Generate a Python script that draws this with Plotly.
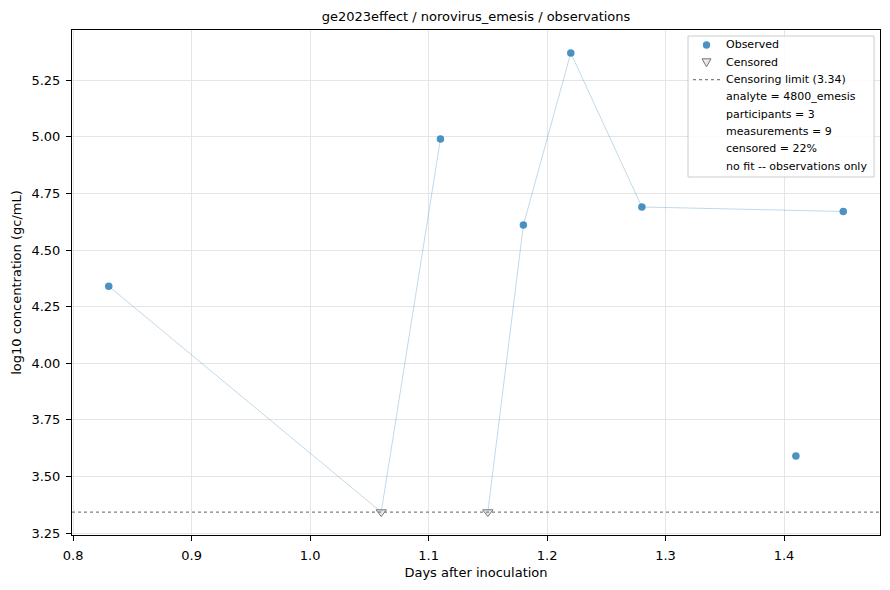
import plotly.graph_objects as go

# Observations (days after inoculation, log10 gc/mL)
participant = ["A", "A", "A", "B", "B", "B", "B", "B", "C"]
days = [0.83, 1.06, 1.11, 1.15, 1.18, 1.22, 1.28, 1.45, 1.41]
log_conc = [4.34, 3.343, 4.99, 3.343, 4.61, 5.37, 4.69, 4.67, 3.59]
censored = [False, True, False, True, False, False, False, False, False]

censor_limit = 3.343
legend_labels = [
    "Observed",
    "Censored",
    f"Censoring limit ({censor_limit:.2f})",
    "analyte = 4800_emesis",
    "participants = 3",
    "measurements = 9",
    "censored = 22%",
    "no fit -- observations only",
]

blue = "#1f77b4"
font = "DejaVu Sans"

fig = go.Figure()

# thin line per participant
for pid in sorted(set(participant)):
    idx = [i for i, p in enumerate(participant) if p == pid]
    idx.sort(key=lambda i: days[i])
    fig.add_trace(go.Scatter(
        x=[days[i] for i in idx], y=[log_conc[i] for i in idx],
        mode="lines", line=dict(color="rgba(31,119,180,0.28)", width=1),
        showlegend=False, hoverinfo="skip"))

obs_x = [d for d, c in zip(days, censored) if not c]
obs_y = [v for v, c in zip(log_conc, censored) if not c]
cen_x = [d for d, c in zip(days, censored) if c]
cen_y = [v for v, c in zip(log_conc, censored) if c]

fig.add_trace(go.Scatter(
    x=obs_x, y=obs_y, mode="markers", name="Observed", showlegend=False,
    marker=dict(color=blue, size=7.5, opacity=0.8, line=dict(width=0))))
fig.add_trace(go.Scatter(
    x=cen_x, y=cen_y, mode="markers", name="Censored", showlegend=False,
    marker=dict(symbol="triangle-down", color="rgba(210,210,210,0.5)", size=9,
                line=dict(color="#777777", width=1))))

# censoring limit
fig.add_hline(y=censor_limit, line=dict(color="#808080", width=1.2, dash="dot"))

# matplotlib-like 5% margins
all_y = log_conc + [censor_limit]
xspan = max(days) - min(days)
yspan = max(all_y) - min(all_y)
xrange = [min(days) - 0.05 * xspan, max(days) + 0.05 * xspan]
yrange = [min(all_y) - 0.05 * yspan, max(all_y) + 0.05 * yspan]

# legend drawn by hand (matplotlib-style compact rows)
row_top, row_step = 0.9703, 0.03426
text_x, sym_x = 0.8069, 0.7853
fig.add_shape(type="rect", xref="paper", yref="paper",
              x0=0.7624, x1=0.9926, y0=0.7089, y1=0.9881,
              line=dict(color="#cccccc", width=1), fillcolor="rgba(255,255,255,0.85)",
              layer="above")
for i, lab in enumerate(legend_labels):
    fig.add_annotation(x=text_x, y=row_top - i * row_step, xref="paper", yref="paper",
                       text=lab, showarrow=False, xanchor="left", yanchor="middle",
                       font=dict(size=11, color="black"))
fig.add_shape(type="circle", xref="paper", yref="paper", xsizemode="pixel", ysizemode="pixel",
              xanchor=sym_x, yanchor=row_top, x0=-3.7, x1=3.7, y0=-3.7, y1=3.7,
              fillcolor=blue, opacity=0.8, line=dict(width=0), layer="above")
fig.add_shape(type="path", xref="paper", yref="paper", xsizemode="pixel", ysizemode="pixel",
              xanchor=sym_x, yanchor=row_top - row_step,
              path="M -4.5 3.5 L 4.5 3.5 L 0 -4.5 Z",
              fillcolor="rgba(210,210,210,0.5)", line=dict(color="#777777", width=1),
              layer="above")
fig.add_shape(type="line", xref="paper", yref="paper",
              x0=0.7686, x1=0.8020, y0=row_top - 2 * row_step, y1=row_top - 2 * row_step,
              line=dict(color="#808080", width=1.2, dash="dot"), layer="above")

axis_style = dict(
    showline=True, linecolor="black", linewidth=1, mirror=True,
    ticks="outside", ticklen=5, tickcolor="black", ticklabelstandoff=3,
    showgrid=True, gridcolor="#e5e5e5", gridwidth=1,
    zeroline=False, tickfont=dict(size=13, color="black"),
    automargin=False,
)

# figure is shifted by the page's 8px body margin, so size/margins compensate
fig.update_layout(
    width=882, height=582,
    margin=dict(l=64, r=10, t=22, b=55),
    plot_bgcolor="white", paper_bgcolor="white",
    font=dict(family=font, color="black"),
    title=dict(text="ge2023effect / norovirus_emesis / observations",
               x=0.5, xref="paper", y=0.9863, yref="container",
               xanchor="center", yanchor="middle", font=dict(size=13)),
    xaxis=dict(range=xrange, dtick=0.1, tickformat=".1f",
               title=dict(text="Days after inoculation", font=dict(size=13), standoff=6),
               **axis_style),
    yaxis=dict(range=yrange, dtick=0.25, tickformat=".2f",
               title=dict(text="log10 concentration (gc/mL)", font=dict(size=13), standoff=6),
               **axis_style),
    showlegend=False,
)

fig.write_html("out.html")
